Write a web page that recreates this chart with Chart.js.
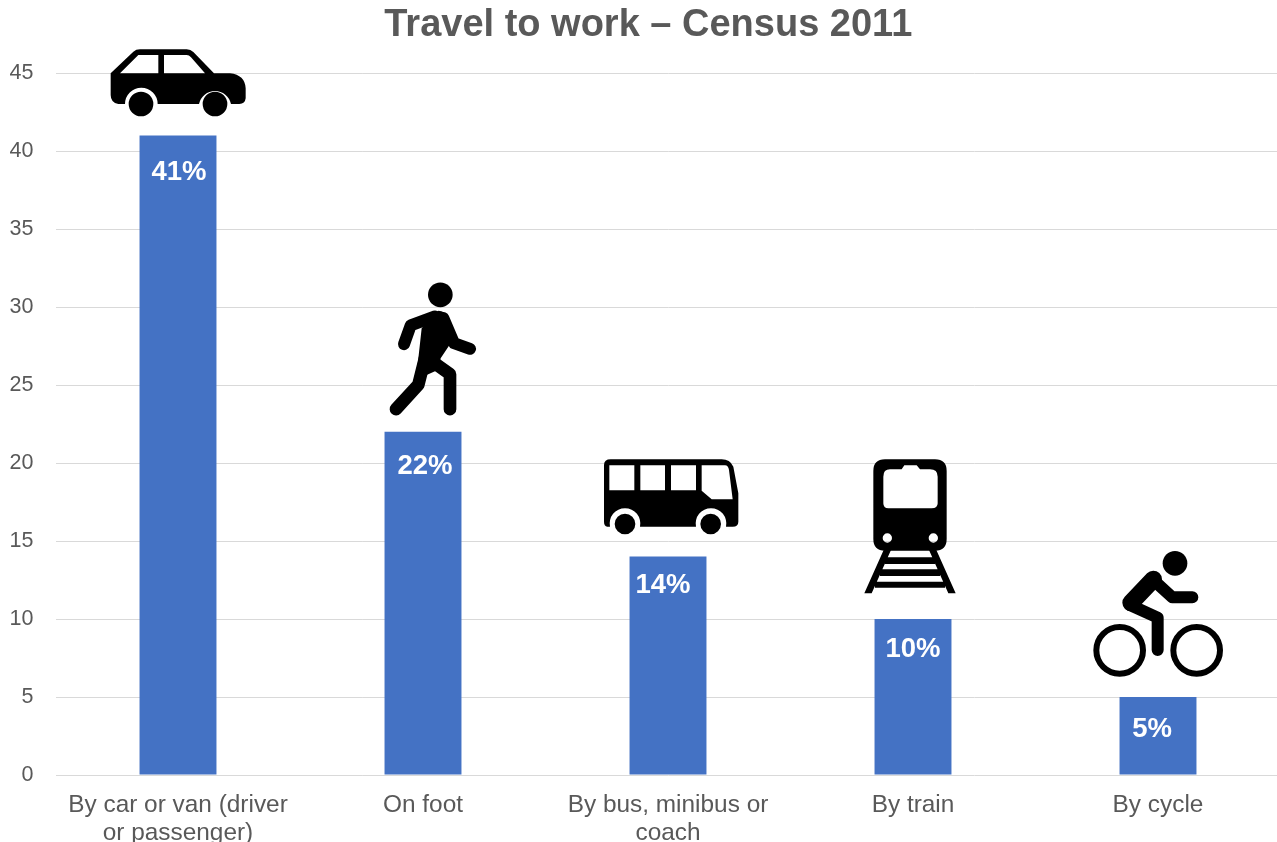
<!DOCTYPE html>
<html>
<head>
<meta charset="utf-8">
<title>Travel to work – Census 2011</title>
<script src="https://cdn.jsdelivr.net/npm/chart.js@4"></script>
<style>
  html, body { margin: 0; padding: 0; background: #fff; overflow: hidden; width: 1277px; height: 842px; }
  canvas { display: block; }
</style>
</head>
<body>
<canvas id="chart" width="1281" height="842"></canvas>
<script>
const categories = [
  ['By car or van (driver', 'or passenger)'],
  'On foot',
  ['By bus, minibus or', 'coach'],
  'By train',
  'By cycle'
];
const shares = [41, 22, 14, 10, 5];
const valueLabels = ['41%', '22%', '14%', '10%', '5%'];
const yTicks = [0, 5, 10, 15, 20, 25, 30, 35, 40, 45];

// Label nudges relative to the top of each bar, in pixels.
const labelNudgeX = [1, 2, -5, 0, -6];
const labelNudgeY = [37, 35, 29, 30, 32];

// Pictograms, authored on a 3x grid. originX/originY place the grid relative to
// the bar's centre and top.
const pictograms = [
  { // car
    originX: -88, originY: -105.4,
    fill: 'M62 130L130 65Q138 58 150 58L290 58Q302 58 310 66L372 130L420 130Q465 135 467 175L467 205Q465 222 448 222L423 222A49 49 0 0 0 327 222L203 222A49 49 0 0 0 105 222L85 222Q62 218 62 195Z' +
          'M90 130L145 75L205 75L205 130Z M222 130L222 75L290 75Q297 75 303 82L345 130Z',
    solid: 'M190 222A37 37 0 1 1 116 222A37 37 0 1 1 190 222Z M412 222A37 37 0 1 1 338 222A37 37 0 1 1 412 222Z',
    strokes: []
  },
  { // walker
    originX: -43, originY: -157,
    fill: 'M125 160L175 108Q195 108 205 130L222 190L182 250L175 285L108 315Z',
    solid: 'M218 60A37 37 0 1 1 144 60A37 37 0 1 1 218 60Z',
    strokes: [
      { width: 36, path: 'M165 125L92 152L72 208' },
      { width: 36, path: 'M190 130L222 205L270 222' },
      { width: 38, path: 'M135 250L115 330L48 403' },
      { width: 38, path: 'M150 255L210 298L210 403' }
    ]
  },
  { // bus
    originX: -78, originY: -106.6,
    fill: 'M42 45Q42 28 62 28L395 28Q420 28 430 50L445 130L445 215Q445 230 428 230L408 230A46 46 0 1 0 318 230L150 230A46 46 0 1 0 60 230L52 230Q42 228 42 215Z' +
          'M58 46L133 46L133 121L58 121Z M151 46L225 46L225 121L151 121Z M243 46L318 46L318 121L243 121Z' +
          'M335 46L405 46Q415 46 417 60L428 148L365 148L335 122Z',
    solid: 'M136 222A31 31 0 1 1 74 222A31 31 0 1 1 136 222Z M393 222A31 31 0 1 1 331 222A31 31 0 1 1 393 222Z',
    strokes: []
  },
  { // train
    originX: -58, originY: -169,
    fill: 'M90 28L240 28Q275 28 275 63L275 267Q275 302 240 302L90 302Q55 302 55 267L55 63Q55 28 90 28Z' +
          'M85 80Q85 58 105 58L140 58L148 46L185 46L195 58L225 58Q248 58 248 80L248 160Q248 175 230 175L100 175Q85 175 85 160Z' +
          'M111 264A14 14 0 1 1 83 264A14 14 0 1 1 111 264Z M249 264A14 14 0 1 1 221 264A14 14 0 1 1 249 264Z',
    solid: 'M86 300L108 300L50 430L28 430Z M222 300L244 300L302 430L280 430Z' +
           'M90 322L240 322L240 342L90 342Z M75 358L255 358L255 378L75 378Z M60 395L270 395L270 413L60 413Z',
    strokes: []
  },
  { // cyclist
    originX: -73, originY: -152,
    fill: '',
    solid: 'M307 55A37 37 0 1 1 233 55A37 37 0 1 1 307 55Z',
    strokes: [
      { width: 52, path: 'M205 103L138 173' },
      { width: 36, path: 'M205 105L262 157L322 157' },
      { width: 36, path: 'M135 180L218 218L218 315' },
      { width: 18, path: 'M174 316A70 70 0 1 1 34 316A70 70 0 1 1 174 316Z' },
      { width: 18, path: 'M405 316A70 70 0 1 1 265 316A70 70 0 1 1 405 316Z' }
    ]
  }
];

// Draws the pictogram above each bar and the percentage inside it.
const barDecorations = {
  id: 'barDecorations',
  afterLayout(chart) {
    // The title sits to the left of the plot centre.
    chart.titleBlock.left += 8;
    chart.titleBlock.right += 8;
  },
  afterDatasetsDraw(chart) {
    const { ctx, scales: { x, y } } = chart;
    shares.forEach((value, i) => {
      const cx = x.getPixelForValue(i);
      const top = y.getPixelForValue(value);
      const icon = pictograms[i];

      ctx.save();
      ctx.translate(cx + icon.originX, top + icon.originY);
      ctx.scale(1 / 3, 1 / 3);
      ctx.fillStyle = '#000';
      ctx.strokeStyle = '#000';
      ctx.lineCap = 'round';
      ctx.lineJoin = 'round';
      if (icon.fill) ctx.fill(new Path2D(icon.fill), 'evenodd');
      ctx.fill(new Path2D(icon.solid));
      icon.strokes.forEach(s => {
        ctx.lineWidth = s.width;
        ctx.stroke(new Path2D(s.path));
      });
      ctx.restore();

      ctx.save();
      ctx.fillStyle = '#fff';
      ctx.font = 'bold 27.5px "Liberation Sans", Arial, sans-serif';
      ctx.textAlign = 'center';
      ctx.textBaseline = 'middle';
      ctx.fillText(valueLabels[i], cx + labelNudgeX[i], top + labelNudgeY[i]);
      ctx.restore();
    });
  }
};

new Chart(document.getElementById('chart'), {
  type: 'bar',
  data: {
    labels: categories,
    datasets: [{
      data: shares,
      backgroundColor: '#4472c4',
      barPercentage: 0.314,
      categoryPercentage: 1
    }]
  },
  plugins: [barDecorations],
  options: {
    responsive: false,
    animation: false,
    layout: { padding: { left: 0, right: 0.5, top: 0, bottom: 0 } },
    plugins: {
      legend: { display: false },
      tooltip: { enabled: false },
      title: {
        display: true,
        text: 'Travel to work – Census 2011',
        color: '#595959',
        font: { family: '"Liberation Sans", Arial, sans-serif', size: 38, weight: 'bold', lineHeight: 1.2 },
        padding: { top: 3, bottom: 24.4 }
      }
    },
    scales: {
      x: {
        afterFit(scale) { scale.height = 67; },
        border: { display: false },
        grid: { display: false, drawTicks: false },
        ticks: {
          color: '#595959',
          font: { family: '"Liberation Sans", Arial, sans-serif', size: 24.4, lineHeight: 1.15 },
          padding: 16,
          maxRotation: 0,
          autoSkip: false
        }
      },
      y: {
        min: 0,
        max: 45,
        afterFit(scale) { scale.width = 55.5; },
        afterBuildTicks(scale) { scale.ticks = yTicks.map(value => ({ value })); },
        border: { display: false },
        grid: { color: '#d9d9d9', lineWidth: 1, drawTicks: false },
        ticks: {
          color: '#595959',
          font: { family: '"Liberation Sans", Arial, sans-serif', size: 21.5 },
          padding: 22
        }
      }
    }
  }
});
</script>
</body>
</html>
